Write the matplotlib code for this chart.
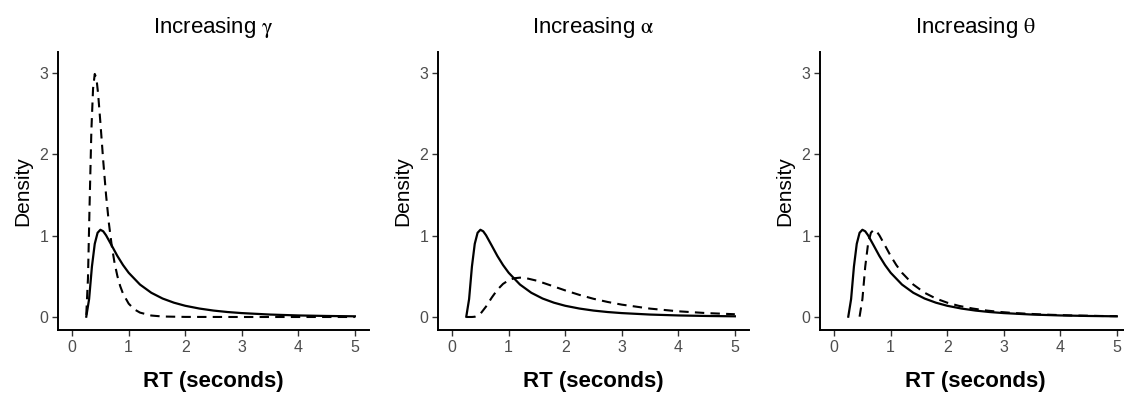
import matplotlib
matplotlib.use("Agg")
from matplotlib import pyplot as plt

plt.rcParams['font.family'] = ['Liberation Sans', 'DejaVu Sans']
plt.rcParams['mathtext.fontset'] = 'stix'

# solid curve (same baseline in every panel)
rt_base = [0.25, 0.30, 0.35, 0.40, 0.45, 0.50, 0.55, 0.60, 0.70, 0.80, 0.90, 1.00,
           1.20, 1.40, 1.60, 1.80, 2.00, 2.25, 2.50, 2.75, 3.00, 3.50, 4.00, 4.50, 5.00]
dens_base = [0.004, 0.22, 0.62, 0.90, 1.036, 1.073, 1.054, 1.005, 0.879, 0.751, 0.639, 0.544,
             0.399, 0.298, 0.227, 0.176, 0.138, 0.104, 0.079, 0.061, 0.048, 0.030, 0.019, 0.0126, 0.0084]

# dashed: increasing gamma
rt_gamma = [0.25, 0.28, 0.31, 0.34, 0.37, 0.40, 0.43, 0.46, 0.50, 0.55, 0.60, 0.65, 0.70,
            0.75, 0.80, 0.85, 0.90, 1.00, 1.10, 1.20, 1.40, 1.60, 2.00, 3.00, 4.00, 5.00]
dens_gamma = [0.026, 0.477, 1.42, 2.29, 2.81, 2.99, 2.935, 2.742, 2.388, 1.92, 1.50, 1.153, 0.879,
              0.666, 0.504, 0.380, 0.287, 0.164, 0.094, 0.054, 0.018, 0.006, 0.001, 0.0, 0.0, 0.0]

# dashed: increasing alpha
rt_alpha = [0.25, 0.35, 0.40, 0.50, 0.60, 0.70, 0.80, 0.90, 1.00, 1.10, 1.20, 1.30, 1.50,
            1.75, 2.00, 2.25, 2.50, 2.75, 3.00, 3.50, 4.00, 4.50, 5.00]
dens_alpha = [0.0, 0.0002, 0.003, 0.039, 0.129, 0.238, 0.335, 0.407, 0.453, 0.477, 0.484, 0.479, 0.446,
              0.387, 0.327, 0.272, 0.224, 0.185, 0.152, 0.103, 0.070, 0.048, 0.034]

# dashed: increasing theta
rt_theta = [0.45, 0.50, 0.55, 0.60, 0.65, 0.70, 0.75, 0.80, 0.90, 1.00, 1.10, 1.20, 1.40,
            1.60, 1.80, 2.00, 2.20, 2.45, 2.70, 2.95, 3.20, 3.70, 4.20, 4.70, 5.00]
dens_theta = [0.004, 0.22, 0.62, 0.90, 1.036, 1.073, 1.054, 1.005, 0.879, 0.751, 0.639, 0.544, 0.399,
              0.298, 0.227, 0.176, 0.138, 0.104, 0.079, 0.061, 0.048, 0.030, 0.019, 0.0126, 0.0099]

titles = [r'Increasing $\mathrm{\gamma}$', r'Increasing $\mathrm{\alpha}$', r'Increasing $\mathrm{\theta}$']
dashed = [(rt_gamma, dens_gamma), (rt_alpha, dens_alpha), (rt_theta, dens_theta)]
x_ticks = [0, 1, 2, 3, 4, 5]
y_ticks = [0, 1, 2, 3]

fig = plt.figure(figsize=(11.24, 3.95), dpi=100)
lefts = [58, 438, 820]

for i in range(3):
    ax = fig.add_axes([lefts[i] / 1124, 65 / 395, 311 / 1124, 278 / 395])
    ax.plot(rt_base, dens_base, color='black', lw=1.6)
    ax.plot(dashed[i][0], dashed[i][1], color='black', lw=1.5, dashes=(4.5, 3))
    ax.set_xlim(-0.25, 5.25)
    ax.set_ylim(-0.16, 3.26)
    ax.set_xticks(x_ticks)
    ax.set_yticks(y_ticks)
    ax.spines['top'].set_visible(False)
    ax.spines['right'].set_visible(False)
    for s in ['left', 'bottom']:
        ax.spines[s].set_linewidth(1.4)
    ax.tick_params(length=4, width=1.0, color='#333333', labelcolor='#4D4D4D',
                   labelsize=11.5, pad=3)
    ax.set_title(titles[i], fontsize=16, pad=14)
    ax.set_xlabel('RT (seconds)', fontsize=16, fontweight='bold', labelpad=12)
    ax.set_ylabel('Density', fontsize=15, labelpad=5)

fig.savefig('out.png', dpi=100)
